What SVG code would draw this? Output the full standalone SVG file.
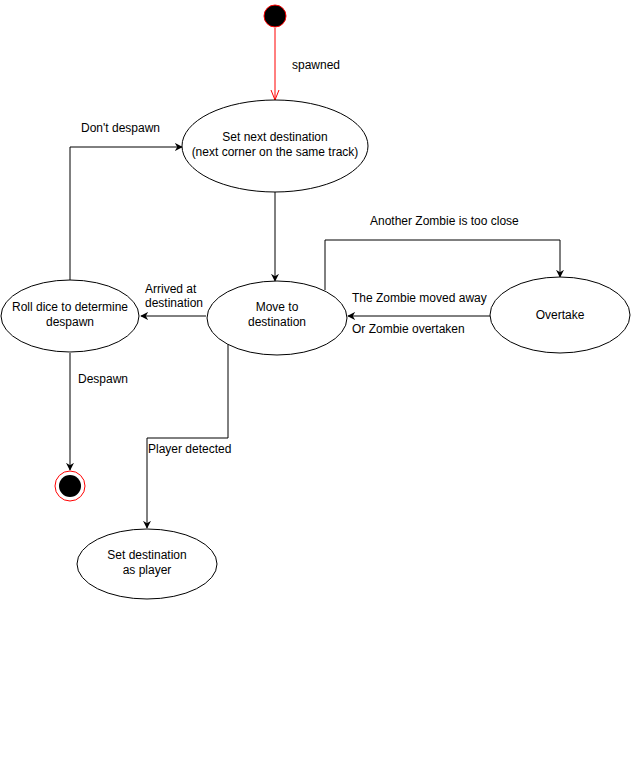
<svg xmlns="http://www.w3.org/2000/svg" width="632" height="762" viewBox="0 0 632 762">
<defs>
<marker id="arr" viewBox="0 0 10 10" refX="9" refY="5" markerWidth="8" markerHeight="8" markerUnits="userSpaceOnUse" orient="auto">
<path d="M0,0 L10,5 L0,10 L3,5 Z" fill="#000"/>
</marker>
<marker id="open" viewBox="0 0 10 10" refX="10" refY="5" markerWidth="10" markerHeight="10" markerUnits="userSpaceOnUse" orient="auto">
<path d="M0,1 L10,5 L0,9" fill="none" stroke="#f00" stroke-width="1"/>
</marker>
</defs>
<style>
.n{fill:#fff;stroke:#000;stroke-width:1}
.t{font-family:"Liberation Sans",Arial,sans-serif;font-size:12px;fill:#000}
.c{text-anchor:middle}
.e{fill:none;stroke:#000;stroke-width:1}
</style>
<rect width="632" height="762" fill="#fff"/>
<g id="connectors">
<path d="M275,28 L275,100" fill="none" stroke="#f00" marker-end="url(#open)"/>
<path class="e" d="M275,192 L275,281" marker-end="url(#arr)"/>
<path class="e" d="M325,290 L325,240 L560,240 L560,277" marker-end="url(#arr)"/>
<path class="e" d="M490,316 L348,316" marker-end="url(#arr)"/>
<path class="e" d="M206,316 L141,316" marker-end="url(#arr)"/>
<path class="e" d="M70,280 L70,147 L182,147" marker-end="url(#arr)"/>
<path class="e" d="M70,353 L70,470" marker-end="url(#arr)"/>
<path class="e" d="M228,343 L228,438 L147,438 L147,528" marker-end="url(#arr)"/>
</g>
<g id="labels">
<text class="t" x="292" y="69">spawned</text>
<text class="t" x="81" y="132">Don't despawn</text>
<text class="t" x="370" y="225">Another Zombie is too close</text>
<text class="t" x="352" y="302">The Zombie moved away</text>
<text class="t" x="352" y="333">Or Zombie overtaken</text>
<text class="t" x="145" y="293">Arrived at</text>
<text class="t" x="145" y="307">destination</text>
<text class="t" x="78" y="383">Despawn</text>
<text class="t" x="148" y="453">Player detected</text>
</g>
<g id="start">
<circle cx="275" cy="16" r="11" fill="#000" stroke="#f00" stroke-width="1"/>
</g>
<g id="set-next">
<ellipse class="n" cx="275" cy="146" rx="93" ry="46"/>
<text class="t c" x="275" y="141">Set next destination</text>
<text class="t c" x="275" y="156">(next corner on the same track)</text>
</g>
<g id="move">
<ellipse class="n" cx="277" cy="318" rx="70" ry="37"/>
<text class="t c" x="277" y="311">Move to</text>
<text class="t c" x="277" y="326">destination</text>
</g>
<g id="overtake">
<ellipse class="n" cx="560" cy="315" rx="70" ry="38"/>
<text class="t c" x="560" y="319">Overtake</text>
</g>
<g id="roll">
<ellipse class="n" cx="70" cy="316" rx="69" ry="36"/>
<text class="t c" x="70" y="311">Roll dice to determine</text>
<text class="t c" x="70" y="326">despawn</text>
</g>
<g id="end">
<circle cx="70" cy="486" r="15" fill="#fff" stroke="#f00" stroke-width="1"/>
<circle cx="70" cy="486" r="11" fill="#000"/>
</g>
<g id="set-player">
<ellipse class="n" cx="147" cy="564" rx="70" ry="35"/>
<text class="t c" x="147" y="559">Set destination</text>
<text class="t c" x="147" y="574">as player</text>
</g>
</svg>
